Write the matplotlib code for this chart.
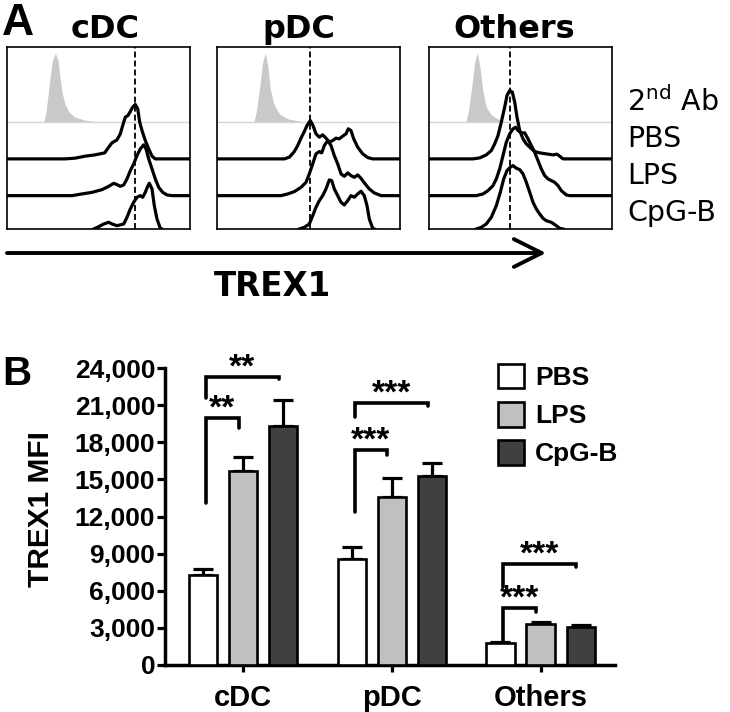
import numpy as np
import matplotlib.pyplot as plt

plt.rcParams['lines.scale_dashes'] = False

W, H = 730.0, 712.0


def box(l, t, r, b):
    # pixel box -> figure fraction
    return [l / W, 1 - b / H, (r - l) / W, (b - t) / H]


# ---- panel A: histogram traces, (x, height above lane)
cdc_2nd = [(36.7, 0), (39, 10), (42, 35), (45, 60), (48.3, 69), (51, 62), (53, 45), (55, 30),
           (58, 18), (62, 10), (68, 5), (78, 2), (92, 0)]
cdc_pbs = [(0, 0), (58, 0), (68, 0.7), (78, 2.7), (88, 4), (97.7, 6), (101.7, 11.7), (105, 16),
           (110, 19), (113.3, 25), (115.7, 33.3), (118.3, 41.7), (121, 43.3), (123.3, 47.3),
           (125.7, 51.7), (128.3, 54.3), (130.7, 50), (132.7, 36.7), (135, 28.3), (138.3, 18.3),
           (141.7, 10), (145, 2.7), (148.3, 0), (183, 0)]
cdc_lps = [(0, 0), (65, 0), (75, 1.7), (85, 3.3), (95, 6), (101.7, 9.3), (106.7, 12.3), (110, 11),
           (113.3, 9.3), (116.7, 10.7), (120, 16.7), (123.3, 25), (126.7, 31.7), (130, 40),
           (133.3, 46.7), (136.7, 50.7), (139, 46.7), (141.7, 36.7), (145, 26.7), (148.3, 16.7),
           (151.7, 8.3), (155.7, 3.3), (160, 0.7), (165, 0), (183, 0)]
cdc_cpg = [(86.7, 0), (91.7, 2.3), (96.7, 5), (101.7, 6.7), (105, 5), (110, 3.3), (116.7, 5),
           (120, 11.7), (123.3, 20), (126.7, 26.7), (130, 31.7), (133.3, 33.3), (135.7, 31.7),
           (138.3, 36.7), (141, 43.3), (142.3, 45.7), (145, 40), (147.3, 23.3), (150, 10),
           (153.3, 0.7), (155, 0)]

pdc_2nd = [(36.7, 0), (39.3, 10), (42.7, 35), (45.7, 60), (48.3, 69.3), (50.7, 56.7), (53.3, 33.3),
           (56.7, 18.3), (62.3, 8.3), (70.7, 3.3), (84, 0.7), (90.7, 0)]
pdc_pbs = [(0, 0), (67.3, 0), (72.3, 1.7), (77.3, 7.3), (80.7, 13.3), (84, 20.7), (87.3, 27.3),
           (90, 33.3), (93.3, 38.3), (96, 33.3), (99, 25), (102.3, 21.7), (105.7, 24), (109, 20.7),
           (112.3, 16.7), (115.7, 18.3), (119, 20.7), (122.3, 20), (125.7, 22.7), (129, 25),
           (131.3, 30), (134, 28.3), (136.7, 20), (140.7, 11.7), (145.7, 5), (150.7, 1.3),
           (155.7, 0), (183, 0)]
pdc_lps = [(0, 0), (64, 0), (70.7, 1.7), (77.3, 4), (84, 8.3), (89, 13.3), (92.3, 21.7), (95.7, 31.7),
           (99, 41.7), (102.3, 44), (104.7, 42.7), (107.3, 50), (110.7, 55), (114, 50), (117.3, 40),
           (120.7, 31.7), (124, 21.7), (127.3, 19.3), (130.7, 22.7), (134, 20), (137.3, 18.3),
           (140.7, 20.7), (144, 17.3), (147.3, 12.7), (152.3, 6.7), (157.3, 2.7), (164, 0), (183, 0)]
pdc_cpg = [(82.3, 0), (87.3, 1.7), (92.3, 5), (95.7, 13.3), (99, 21.7), (102.3, 28.3), (105.7, 33.3),
           (109, 40), (112.3, 49), (114.7, 48.3), (117.3, 40), (120.7, 33.3), (124, 26.7),
           (127.3, 24), (130.7, 28.3), (134, 33.3), (137.3, 31.7), (140.7, 35), (144, 37.7),
           (147.3, 33.3), (150, 23.3), (152.3, 10), (155.7, 0.7), (157.3, 0)]

oth_2nd = [(36.7, 0), (39.3, 10), (42.7, 35), (45.7, 60), (48.3, 69.3), (50.7, 56.7), (54, 30),
           (57.3, 15), (62.3, 7.3), (67.3, 4), (74, 1.3), (80.7, 0)]
oth_pbs = [(0, 0), (44, 0), (50.7, 1), (57.3, 4), (62.3, 8.3), (65.7, 15), (69, 23.3), (72.3, 36.7),
           (75.7, 51.7), (78, 63.3), (80.7, 68.3), (83.3, 66.7), (85.7, 56.7), (88, 41.7),
           (90.7, 28.3), (94, 20), (97.3, 15), (100.7, 11.7), (105.7, 7.3), (110.7, 6), (117.3, 5),
           (124, 4), (128, 4.7), (130.7, 2.7), (134, 0), (183, 0)]
oth_lps = [(0, 0), (47.3, 0), (54, 1.7), (59, 5), (64, 10), (67.3, 16.7), (70.7, 26.7), (74, 40),
           (77.3, 53.3), (80.7, 61.7), (84, 66.7), (86.7, 68.3), (89, 65), (92.3, 62.7), (95.7, 62.7),
           (99, 56.7), (102.3, 50), (105.7, 43.3), (109, 35), (112.3, 26.7), (115.7, 20), (119, 16.7),
           (122.3, 15), (125.7, 13.3), (129, 10), (132.3, 5), (137.3, 0.7), (140.7, 0), (183, 0)]
oth_cpg = [(47.3, 0), (52.3, 1.7), (57.3, 5), (62.3, 11.7), (67.3, 23.3), (71.3, 36.7), (74.7, 50),
           (78, 58.3), (81.3, 61.7), (84, 63.3), (87.3, 60.7), (90.7, 59.3), (94, 55), (97.3, 46.7),
           (100.7, 36.7), (104, 26.7), (107.3, 20), (110.7, 15), (114, 10.7), (117.3, 8.3),
           (122.3, 6.7), (127.3, 3.3), (130.7, 0.7), (134, 0)]

lane_names = ['2nd Ab', 'PBS', 'LPS', 'CpG-B']
lane_labels = [r'2$^{\mathregular{nd}}$ Ab', 'PBS', 'LPS', 'CpG-B']
lane_base = [106.7, 70.0, 33.3, 0.0]

hist_titles = ['cDC', 'pDC', 'Others']
hist_curves = [[cdc_2nd, cdc_pbs, cdc_lps, cdc_cpg],
               [pdc_2nd, pdc_pbs, pdc_lps, pdc_cpg],
               [oth_2nd, oth_pbs, oth_lps, oth_cpg]]
hist_marker = [127.7, 93.3, 80.7]   # dashed reference line

# ---- panel B: TREX1 MFI, mean and SEM
groups = ['cDC', 'pDC', 'Others']
treatments = ['PBS', 'LPS', 'CpG-B']
mfi_pbs = [7300, 8550, 1750]
mfi_lps = [15700, 13600, 3300]
mfi_cpg = [19300, 15300, 3050]
sem_pbs = [450, 1000, 130]
sem_lps = [1100, 1550, 200]
sem_cpg = [2100, 1050, 200]

# significance brackets: group, bar a, bar b, left foot, top, right foot, label
sig = [
    (0, 0, 1, 13090, 19960, 19150, '**'),
    (0, 0, 2, 21575, 23270, 23110, '**'),
    (1, 0, 1, 12360, 17370, 16970, '***'),
    (1, 0, 2, 20040, 21170, 20930, '***'),
    (2, 0, 1, 1900, 4606, 4280, '***'),
    (2, 0, 2, 6300, 8160, 7920, '***'),
]

fig = plt.figure(figsize=(W / 100, H / 100), dpi=100)

# overlay in pixel units for free text
ax0 = fig.add_axes([0, 0, 1, 1])
ax0.set_xlim(0, W)
ax0.set_ylim(H, 0)
ax0.axis('off')

sans_a = ['DejaVu Sans']
arial = ['Liberation Sans', 'DejaVu Sans']

ax0.text(2, 35, 'A', fontsize=32, fontweight='bold', family=arial, va='baseline')
ax0.text(2, 385, 'B', fontsize=29, fontweight='bold', family=arial, va='baseline')

# ---- histograms
lefts = [7, 217, 429]
title_x = [105, 299, 514]
for k in range(3):
    ax = fig.add_axes(box(lefts[k], 47, lefts[k] + 183, 229))
    curves = hist_curves[k]
    xs, hs = np.array(curves[0]).T
    ax.fill_between(xs, lane_base[0], lane_base[0] + hs, color='#c9c9c9', lw=0)
    ax.axhline(lane_base[0], color='#d4d4d4', lw=1.0)
    for c, b in zip(curves[1:], lane_base[1:]):
        xs, hs = np.array(c).T
        ax.plot(xs, b + hs, color='k', lw=2.3, solid_joinstyle='round')
    ax.axvline(hist_marker[k], color='k', lw=1.3, dashes=(4.3, 2.2))
    ax.set_xlim(0, 183)
    ax.set_ylim(0, 181.7)
    ax.set_xticks([])
    ax.set_yticks([])
    for s in ax.spines.values():
        s.set_linewidth(1.2)
    ax0.text(title_x[k], 38, hist_titles[k], ha='center', va='baseline',
             fontsize=23, fontweight='bold', family=sans_a)

for lab, yb in zip(lane_labels, [111, 147, 184, 221]):
    ax0.text(627, yb, lab, fontsize=20.5, family=sans_a, va='baseline')

ax0.annotate('', xy=(546, 253), xytext=(7, 253),
             arrowprops=dict(arrowstyle='->,head_length=2.0,head_width=1.0',
                             lw=2.8, color='k', shrinkA=0, shrinkB=0))
ax0.text(272, 296, 'TREX1', ha='center', va='baseline', fontsize=23.5,
         fontweight='bold', family=sans_a)

# ---- bar chart
axb = fig.add_axes(box(165, 368, 615, 665))
pos = np.arange(len(groups))
offs = [-0.27, 0.0, 0.27]
width = 0.19
colors = ['white', '#c0c0c0', '#404040']
means = [mfi_pbs, mfi_lps, mfi_cpg]
sems = [sem_pbs, sem_lps, sem_cpg]

bars = []
for j in range(3):
    x = pos + offs[j]
    b = axb.bar(x, means[j], width, color=colors[j], edgecolor='k', lw=1.9, zorder=3)
    bars.append(b)
    axb.errorbar(x, means[j], yerr=[np.zeros(3), sems[j]], fmt='none', ecolor='k',
                 elinewidth=2.3, capsize=7, capthick=2.3, zorder=2)

for g, a, b, yl, yt, yr, lab in sig:
    xa = pos[g] + offs[a] + 0.02
    xb = pos[g] + offs[b] - 0.03
    axb.plot([xa, xa, xb, xb], [yl, yt, yt, yr], color='k', lw=2.6,
             solid_capstyle='round', solid_joinstyle='miter', clip_on=False, zorder=4)
    axb.annotate(lab, ((xa + xb) / 2, yt), xytext=(0, 0.0), textcoords='offset points',
                 ha='center', va='baseline', fontsize=24, fontweight='bold',
                 family=arial, annotation_clip=False)

axb.set_xlim(-0.525, 2.5)
axb.set_ylim(0, 24000)
yt = np.arange(0, 24001, 3000)
axb.set_yticks(yt)
axb.set_yticklabels(['{:,}'.format(v) for v in yt])
axb.set_xticks(pos)
axb.set_xticklabels(groups)
for s in ['top', 'right']:
    axb.spines[s].set_visible(False)
for s in ['left', 'bottom']:
    axb.spines[s].set_linewidth(2.5)
axb.tick_params(axis='y', length=6, width=2.3, pad=1)
axb.tick_params(axis='x', length=5, width=2.3, pad=9)
for t in axb.get_yticklabels():
    t.set_fontsize(19)
    t.set_fontweight('bold')
    t.set_family(arial)
for t in axb.get_xticklabels():
    t.set_fontsize(21)
    t.set_fontweight('bold')
    t.set_family(arial)
axb.patch.set_visible(False)

ax0.text(41, 509, 'TREX1 MFI', rotation=90, ha='center', va='center',
         fontsize=21.5, fontweight='bold', family=arial)

axb.legend(bars, treatments, loc='upper left', bbox_to_anchor=(498 / W, 1 - 364 / H),
           bbox_transform=fig.transFigure, frameon=False, borderpad=0, borderaxespad=0,
           handlelength=1.0, handleheight=1.05, handletextpad=0.4, labelspacing=0.45,
           prop=dict(family=arial, weight='bold', size=19))

fig.savefig('out.png', dpi=100)
